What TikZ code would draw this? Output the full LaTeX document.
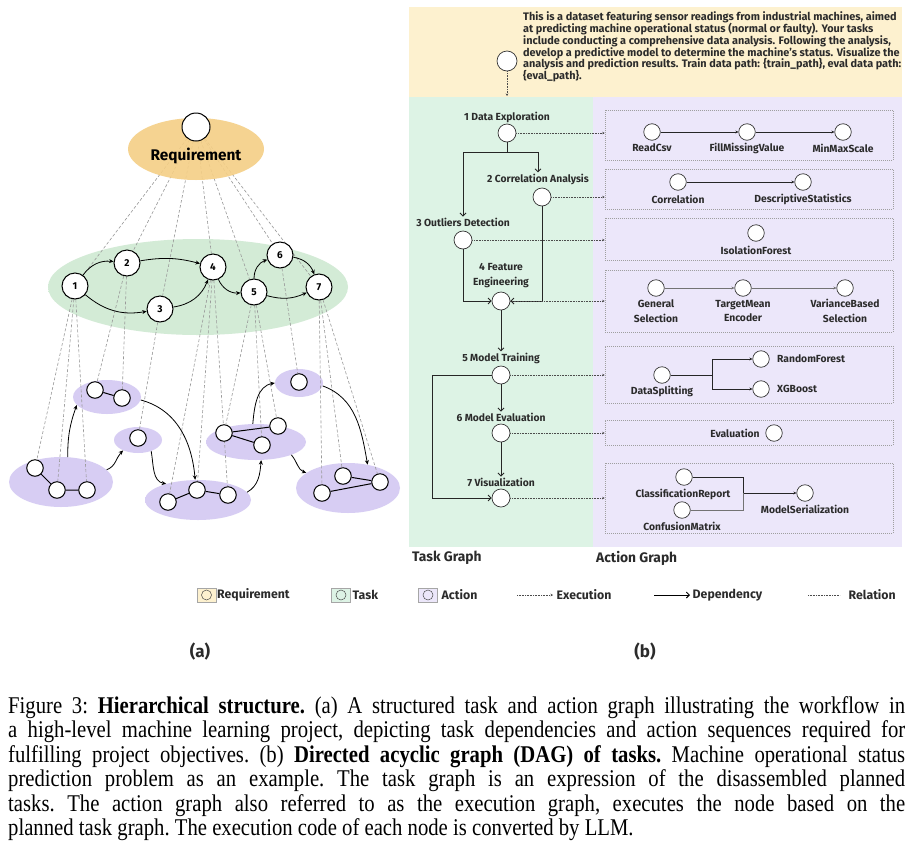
\documentclass[tikz,border=0pt]{standalone}
\usepackage{graphicx}
\usepackage{fontspec}
\setmainfont{Liberation Serif}
\setsansfont{Fira Sans}
\newfontfamily\capfont{Liberation Serif}
\usetikzlibrary{arrows.meta,shapes.geometric}
\definecolor{ylw}{HTML}{FDF1CF}
\definecolor{grn}{HTML}{DDF3E5}
\definecolor{prp}{HTML}{ECE7FA}
\definecolor{orIn}{HTML}{F5CF86}
\definecolor{orOut}{HTML}{FBE8C2}
\definecolor{grIn}{HTML}{D3EBD6}
\definecolor{grOut}{HTML}{EAF6EC}
\definecolor{puIn}{HTML}{D7CDF3}
\definecolor{puOut}{HTML}{EAE5F9}
\definecolor{txt}{HTML}{2B2B2B}
\pgfdeclareradialshading{orsh}{\pgfpoint{0bp}{0bp}}{color(0bp)=(orIn); color(32bp)=(orIn); color(50bp)=(orOut)}
\pgfdeclareradialshading{grsh}{\pgfpoint{0bp}{0bp}}{color(0bp)=(grIn); color(36bp)=(grIn); color(50bp)=(grOut)}
\pgfdeclareradialshading{pusha}{\pgfpoint{0bp}{0bp}}{color(0bp)=(puIn); color(34bp)=(puIn); color(50bp)=(puOut)}
\pgfdeclarelayer{back}
\pgfdeclarelayer{mid}
\pgfsetlayers{back,mid,main}
\begin{document}
\begin{tikzpicture}[x=1pt,y=1pt,
  ell/.style={ellipse, inner sep=0pt, draw=none},
  lt/.style={circle, draw=black, line width=1pt, fill=white, minimum size=26pt, inner sep=0pt,
    font=\sffamily\bfseries\fontsize{10}{10}\selectfont},
  la/.style={circle, draw=black, line width=1pt, fill=white, minimum size=16.5pt, inner sep=0pt},
  rel/.style={draw=gray!80, dash pattern=on 3pt off 2pt, line width=0.6pt},
  lar/.style={-{Stealth[length=4.5pt,width=4pt]}, line width=0.8pt},
  uline/.style={line width=1pt},
  rt/.style={circle, draw=black!80, line width=0.7pt, fill=white, minimum size=18pt, inner sep=0pt},
  ra/.style={circle, draw=black!80, line width=0.7pt, fill=white, minimum size=16.5pt, inner sep=0pt},
  lbl/.style={font=\sffamily\bfseries\fontsize{10.3}{14.5}\selectfont, text=txt, inner sep=1pt, align=center},
  ptx/.style={font=\sffamily\bfseries\fontsize{10.9}{11.7}\selectfont, text=txt, inner sep=0pt, align=left},
  dep/.style={-{Straight Barb[length=3pt,width=6pt]}, line width=0.9pt, draw=black!85},
  exe/.style={-{Stealth[length=2.5pt,width=2.5pt]}, dash pattern=on 0.8pt off 0.8pt, line width=0.6pt, draw=black!70},
  act/.style={-{Stealth[length=3pt,width=3pt]}, line width=0.6pt, draw=black!85},
  gact/.style={-{Stealth[length=3pt,width=3pt]}, line width=0.7pt, draw=black!55},
  gline/.style={line width=0.6pt, draw=black!55},
  abox/.style={draw=gray!75, dash pattern=on 1pt off 1pt, line width=0.6pt, minimum width=288pt, inner sep=0pt},
  swatch/.style={draw=gray!70, line width=0.6pt, minimum width=19pt, minimum height=14pt, inner sep=0pt},
  swc/.style={circle, draw=black!70, line width=0.5pt, minimum size=10pt, inner sep=0pt},
  lgt/.style={font=\sffamily\bfseries\fontsize{12.3}{12.3}\selectfont, text=txt, inner sep=0pt, anchor=west},
  ttl/.style={font=\sffamily\bfseries\fontsize{13.8}{13.8}\selectfont, text=txt, inner sep=0pt, anchor=west}
]
\useasboundingbox (0,0) rectangle (920,-849);
\begin{pgfonlayer}{back}
\fill[white] (0,0) rectangle (920,-849);
\end{pgfonlayer}

%================ LEFT PANEL (a) =================
\begin{pgfonlayer}{back}
\node[ell, minimum width=300pt, minimum height=96pt, shading=grsh] (gE) at (198,-287) {};
\node[ell, minimum width=104pt, minimum height=50pt, shading=pusha] (clA) at (61,-482) {};
\node[ell, minimum width=68pt, minimum height=34pt, shading=pusha] (clB) at (107,-397) {};
\node[ell, minimum width=48pt, minimum height=26pt, shading=pusha] (clC) at (138,-440) {};
\node[ell, minimum width=106pt, minimum height=40pt, shading=pusha] (clD) at (198,-500) {};
\node[ell, minimum width=100pt, minimum height=36pt, shading=pusha] (clE) at (256,-442) {};
\node[ell, minimum width=48pt, minimum height=28pt, shading=pusha] (clF) at (299,-383) {};
\node[ell, minimum width=104pt, minimum height=50pt, shading=pusha] (clG) at (348,-488) {};
\end{pgfonlayer}

\node[ell, minimum width=136pt, minimum height=62pt, shading=orsh, opacity=0.9] (oE) at (196,-149) {};
\node[font=\sffamily\bfseries\fontsize{15.4}{15.4}\selectfont, inner sep=0pt] (reqT) at (196,-156) {Requirement};
\node[lt, minimum size=28pt] (R) at (196,-127) {};

\node[lt] (t1) at (75,-286) {1};
\node[lt] (t2) at (127,-263) {2};
\node[lt] (t3) at (160,-309) {3};
\node[lt] (t4) at (213,-267) {4};
\node[lt] (t5) at (254,-292) {5};
\node[lt] (t6) at (280,-255) {6};
\node[lt] (t7) at (319,-287) {7};

\node[la] (a1) at (35,-468) {};
\node[la] (a2) at (57,-490) {};
\node[la] (a3) at (87,-490) {};
\node[la] (b1) at (95,-390) {};
\node[la] (b2) at (122,-398) {};
\node[la] (c1) at (138,-438) {};
\node[la] (d1) at (168,-502) {};
\node[la] (d2) at (197,-490) {};
\node[la] (d3) at (228,-495) {};
\node[la] (e1) at (224,-433) {};
\node[la] (e2) at (278,-426) {};
\node[la] (e3) at (262,-445) {};
\node[la] (f1) at (299,-382) {};
\node[la] (g1) at (343,-476) {};
\node[la] (g2) at (380,-482) {};
\node[la] (g3) at (322,-493) {};

\begin{pgfonlayer}{mid}
\draw[rel] (R) -- (t1); \draw[rel] (R) -- (t2); \draw[rel] (R) -- (t3);
\draw[rel] (R) -- (t4); \draw[rel] (R) -- (t5); \draw[rel] (R) -- (t6);
\draw[rel] (R) -- (t7);
\draw[rel] (t1) -- (a1); \draw[rel] (t1) -- (a2); \draw[rel] (t1) -- (a3);
\draw[rel] (t2) -- (b1); \draw[rel] (t2) -- (b2);
\draw[rel] (t3) -- (c1);
\draw[rel] (t4) -- (d1); \draw[rel] (t4) -- (d2); \draw[rel] (t4) -- (d3);
\draw[rel] (t5) -- (e1); \draw[rel] (t5) -- (e2); \draw[rel] (t5) -- (e3);
\draw[rel] (t6) -- (f1);
\draw[rel] (t7) -- (g1); \draw[rel] (t7) -- (g2); \draw[rel] (t7) -- (g3);
\end{pgfonlayer}

\draw[lar] (t1) to[bend left=30] (t2);
\draw[lar] (t1) to[bend right=25] (t3);
\draw[lar] (t2) to[bend left=12] (t4);
\draw[lar] (t3) to[bend right=30] (t4);
\draw[lar] (t4) to[bend right=35] (t5);
\draw[lar] (t5) to[bend left=35] (t6);
\draw[lar] (t6) to[bend left=30] (t7);
\draw[lar] (t5) to[bend right=20] (t7);

\draw[uline] (a1) -- (a2) -- (a3);
\draw[uline] (b1) -- (b2);
\draw[uline] (d1) -- (d2) -- (d3);
\draw[uline] (e1) -- (e2);
\draw[uline] (e1) -- (e3);
\draw[uline] (g1) -- (g2);
\draw[uline] (g3) -- (g2);

\draw[lar] (clA.75) to[out=90,in=250] (clB.195);
\draw[lar] (clA.15) to[out=20,in=225] (clC.215);
\draw[lar] (clB.-5) to[out=-15,in=95] (clD.98);
\draw[lar] (clC.-40) to[out=-80,in=170] (clD.153);
\draw[lar] (clD.9) to[out=30,in=-95] (clE.-74);
\draw[lar] (clE.100) to[out=85,in=190] (clF.180);
\draw[lar] (clE.-20) to[out=-50,in=160] (clG.160);
\draw[lar] (clF.-7) to[out=-20,in=100] (clG.50);

%================ RIGHT PANEL (b) =================
\fill[ylw] (409,-7) rectangle (902,-97);
\fill[grn] (409,-97) rectangle (593,-547);
\fill[prp] (593,-97) rectangle (902,-547);

\node[rt, minimum size=20pt] (RR) at (507,-61) {};
\coordinate (RRend) at (507,-96);
\draw[exe] (RR) -- (RRend);
\node[ptx, anchor=north west] (ptext) at (523,-11) {This is a dataset featuring sensor readings from industrial machines, aimed\\
at predicting machine operational status (normal or faulty). Your tasks\\
include conducting a comprehensive data analysis. Following the analysis,\\
develop a predictive model to determine the machine's status. Visualize the\\
analysis and prediction results. Train data path: \{train\_path\}, eval data path:\\
\{eval\_path\}.};

% task graph
\node[lbl] (L1) at (507,-117) {1 Data Exploration};
\node[rt] (T1) at (507,-133) {};
\node[lbl] (L2) at (538,-179) {2 Correlation Analysis};
\node[rt] (T2) at (542,-197) {};
\node[lbl] (L3) at (463,-222) {3 Outliers Detection};
\node[rt] (T3) at (463,-240) {};
\node[lbl] (L4) at (501,-275.5) {4 Feature\\Engineering};
\node[rt] (T4) at (501,-301) {};
\node[lbl] (L5) at (501,-358) {5 Model Training};
\node[rt] (T5) at (501,-375) {};
\node[lbl] (L6) at (501,-417) {6 Model Evaluation};
\node[rt] (T6) at (501,-433) {};
\node[lbl] (L7) at (501,-482) {7 Visualization};
\node[rt] (T7) at (501,-498) {};

\coordinate (j1) at (507,-152);
\draw[dep] (T1.south) -- (j1) -| (L2.north);
\draw[dep] (j1) -| (L3.north);
\draw[dep] (T3.south) |- (T4.west);
\draw[dep] (T2.south) |- (T4.east);
\draw[dep] (T4.south) -- (L5.north);
\draw[dep] (T5.south) -- (L6.north);
\draw[dep] (T6.south) -- (L7.north);
\coordinate (k5) at (432,-375);
\draw[dep] (T5.west) -- (k5) |- (T7.west);

% action boxes
\node[abox, minimum height=50pt] (B1) at (749,-135) {};
\node[abox, minimum height=40pt] (B2) at (749,-189) {};
\node[abox, minimum height=42pt] (B3) at (749,-239) {};
\node[abox, minimum height=62pt] (B4) at (749,-301) {};
\node[abox, minimum height=57pt] (B5) at (749,-374.5) {};
\node[abox, minimum height=25pt] (B6) at (749,-432.5) {};
\node[abox, minimum height=70pt] (B7) at (749,-498) {};

\draw[exe] (T1.east) -- (T1.east -| B1.west);
\draw[exe] (T2.east) -- (T2.east -| B2.west);
\draw[exe] (T3.east) -- (T3.east -| B3.west);
\draw[exe] (T4.east) -- (T4.east -| B4.west);
\draw[exe] (T5.east) -- (T5.east -| B5.west);
\draw[exe] (T6.east) -- (T6.east -| B6.west);
\draw[exe] (T7.east) -- (T7.east -| B7.west);

% box 1
\node[ra] (x11) at (652,-132) {};
\node[ra] (x12) at (747,-132) {};
\node[ra] (x13) at (843,-132) {};
\node[lbl] (x11l) at (652,-148) {ReadCsv};
\node[lbl] (x12l) at (747,-148) {FillMissingValue};
\node[lbl] (x13l) at (843,-148) {MinMaxScale};
\draw[act] (x11) -- (x12);
\draw[act] (x12) -- (x13);
% box 2
\node[ra] (x21) at (678,-182) {};
\node[ra] (x22) at (803,-182) {};
\node[lbl] (x21l) at (678,-199) {Correlation};
\node[lbl] (x22l) at (803,-199) {DescriptiveStatistics};
\draw[act] (x21) -- (x22);
% box 3
\node[ra] (x31) at (756,-233) {};
\node[lbl] (x31l) at (756,-250) {IsolationForest};
% box 4
\node[ra] (x41) at (656,-288) {};
\node[ra] (x42) at (743,-288) {};
\node[ra] (x43) at (845,-288) {};
\node[lbl] (x41l) at (656,-311) {General\\Selection};
\node[lbl] (x42l) at (743,-311) {TargetMean\\Encoder};
\node[lbl] (x43l) at (845,-311) {VarianceBased\\Selection};
\draw[gact] (x41) -- (x42);
\draw[gact] (x42) -- (x43);
% box 5
\node[ra] (x51) at (662,-375) {};
\node[ra] (x52) at (761,-359) {};
\node[ra] (x53) at (761,-389) {};
\node[lbl] (x51l) at (662,-391) {DataSplitting};
\node[lbl, anchor=west] (x52l) at (776,-359) {RandomForest};
\node[lbl, anchor=west] (x53l) at (776,-389) {XGBoost};
\coordinate (j5) at (712,-375);
\draw[act] (x51.east) -- (j5) |- (x52.west);
\draw[act] (j5) |- (x53.west);
% box 6
\node[lbl] (x61l) at (735,-433) {Evaluation};
\node[ra] (x61) at (774,-433) {};
% box 7
\node[ra] (x71) at (684,-477) {};
\node[ra] (x72) at (682,-510) {};
\node[ra] (x73) at (805,-493) {};
\node[lbl] (x71l) at (683,-494) {ClassificationReport};
\node[lbl] (x72l) at (682,-526) {ConfusionMatrix};
\node[lbl] (x73l) at (805,-509) {ModelSerialization};
\coordinate (j7) at (743,-493);
\draw[act] (x71.east) -| (j7) -- (x73.west);
\draw[gline] (x72.east) -| (j7);

\node[ttl] (tg) at (412,-558) {Task Graph};
\node[ttl] (ag) at (596,-558) {Action Graph};

%================ LEGEND =================
\node[swatch, fill=ylw] (lg1) at (206.5,-595) {};
\node[swc] (lg1c) at (lg1) {};
\node[lgt] (lg1t) at (217,-595) {Requirement};
\node[swatch, fill=grn] (lg2) at (341,-595) {};
\node[swc] (lg2c) at (lg2) {};
\node[lgt] (lg2t) at (352.5,-595) {Task};
\node[swatch, fill=prp] (lg3) at (428,-595) {};
\node[swc] (lg3c) at (lg3) {};
\node[lgt] (lg3t) at (441.5,-595) {Action};
\coordinate (le1) at (517,-595);
\coordinate (le2) at (553,-595);
\draw[exe] (le1) -- (le2);
\node[lgt] (lg4t) at (556.5,-595) {Execution};
\coordinate (ld1) at (654,-595);
\coordinate (ld2) at (690,-595);
\draw[dep, draw=black] (ld1) -- (ld2);
\node[lgt] (lg5t) at (692.5,-595) {Dependency};
\coordinate (lr1) at (808,-595);
\coordinate (lr2) at (840,-595);
\draw[dash pattern=on 0.8pt off 0.8pt, line width=0.6pt, draw=black!70] (lr1) -- (lr2);
\node[lgt] (lg6t) at (848.5,-595) {Relation};

\node[font=\sffamily\bfseries\fontsize{17}{17}\selectfont, text=txt] (pa) at (200,-652) {(a)};
\node[font=\sffamily\bfseries\fontsize{17}{17}\selectfont, text=txt] (pb) at (645,-652) {(b)};

%================ CAPTION =================
\node[anchor=base west, inner sep=0pt] (cap) at (8,-713) {\scalebox{0.8625}[1]{\parbox[t]{1040pt}{\capfont\fontsize{24}{24.5}\selectfont\frenchspacing
\makebox[1040pt][s]{Figure 3: \textbf{Hierarchical structure.} (a) A structured task and action graph illustrating the workflow in}\\
\makebox[1040pt][s]{a high-level machine learning project, depicting task dependencies and action sequences required for}\\
\makebox[1040pt][s]{fulfilling project objectives. (b) \textbf{Directed acyclic graph (DAG) of tasks.} Machine operational status}\\
\makebox[1040pt][s]{prediction problem as an example. The task graph is an expression of the disassembled planned}\\
\makebox[1040pt][s]{tasks. The action graph also referred to as the execution graph, executes the node based on the}\\
\makebox[1040pt][l]{planned task graph. The execution code of each node is converted by LLM.}}}};
\end{tikzpicture}
\end{document}
